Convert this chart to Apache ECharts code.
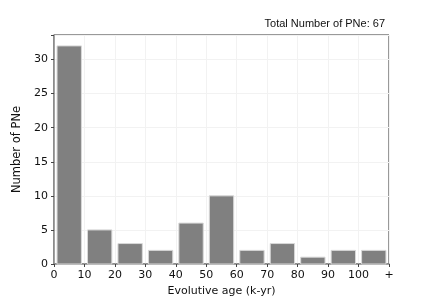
<!DOCTYPE html>
<html><head><meta charset="utf-8">
<script src="https://cdn.jsdelivr.net/npm/echarts@6/dist/echarts.min.js"></script>
<style>html,body{margin:0;padding:0;background:#fff}#c{width:432px;height:297px}</style>
</head><body><div id="c"></div>
<script>
var binStarts = [0, 10, 20, 30, 40, 50, 60, 70, 80, 90, 100];
var counts = [32, 5, 3, 2, 6, 10, 2, 3, 1, 2, 2];
var xTickLabels = ['0','10','20','30','40','50','60','70','80','90','100','+'];
var yTicks = [0, 5, 10, 15, 20, 25, 30];
var totalText = 'Total Number of PNe: 67';

var chart = echarts.init(document.getElementById('c'), null, {renderer:'canvas'});
var font = 'DejaVu Sans';
var data = binStarts.map(function(s,i){return [s, counts[i]];});
chart.setOption({
  animation:false,
  backgroundColor:'#fff',
  title:{text: totalText, right: 42, top: 13, textStyle:{fontFamily:'Liberation Sans', fontSize:11, fontWeight:'normal', color:'#111'}},
  grid:{left:54, right:43, top:35, bottom:33, show:true, borderColor:'#333', borderWidth:1, containLabel:false, outerBoundsMode:'none'},
  xAxis:{type:'value', min:0, max:110, interval:10,
    name:'Evolutive age (k-yr)', nameLocation:'middle', nameGap:20,
    nameTextStyle:{fontFamily:font, fontSize:11, color:'#111'},
    axisLine:{show:true, lineStyle:{color:'#888', width:1.5}},
    axisTick:{show:true, length:3, lineStyle:{color:'#444'}},
    axisLabel:{fontFamily:font, fontSize:11, color:'#111', margin:6,
      formatter:function(v){return xTickLabels[Math.round(v/10)];}},
    splitLine:{show:true, lineStyle:{color:'#f2f2f2', width:1}}
  },
  yAxis:{type:'value', min:0, max:33.6, interval:5,
    name:'Number of PNe', nameLocation:'middle', nameGap:31,
    nameTextStyle:{fontFamily:font, fontSize:11.5, color:'#111'},
    axisLine:{show:true, lineStyle:{color:'#888', width:1.5}},
    axisTick:{show:true, length:3, lineStyle:{color:'#444'}},
    axisLabel:{fontFamily:font, fontSize:11, color:'#111', margin:6,
      formatter:function(v){return yTicks.indexOf(v)>=0 ? String(v) : '';}},
    splitLine:{show:true, lineStyle:{color:'#f2f2f2', width:1}}
  },
  series:[{
    type:'custom',
    data:data,
    renderItem:function(params, api){
      var s = api.value(0), v = api.value(1);
      var p0 = api.coord([s+1, v]);
      var p1 = api.coord([s+9, 0]);
      return {type:'rect', shape:{x:p0[0], y:p0[1], width:p1[0]-p0[0], height:p1[1]-p0[1]},
        style:{fill:'#808080', stroke:'#d8d8d8', lineWidth:1}};
    },
    encode:{x:0, y:1}
  }]
});
</script></body></html>
